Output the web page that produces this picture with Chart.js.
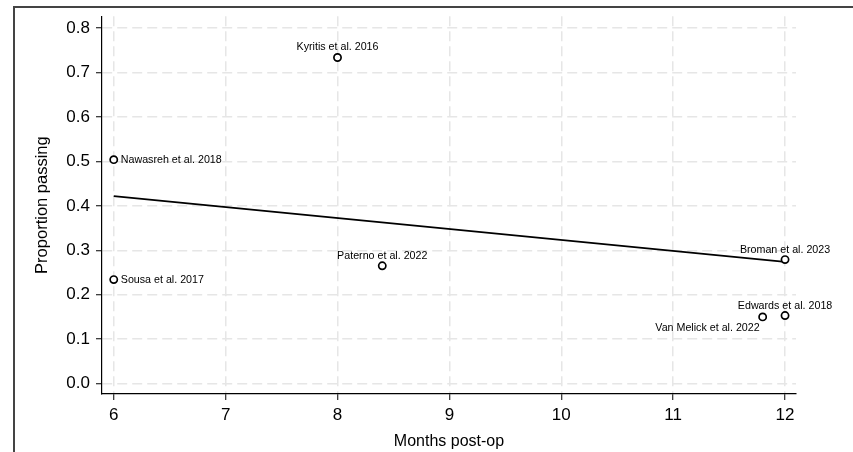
<!DOCTYPE html>
<html>
<head>
<meta charset="utf-8">
<script src="https://cdn.jsdelivr.net/npm/chart.js@4.4.0/dist/chart.umd.min.js"></script>
<style>
  html, body { margin: 0; padding: 0; background: #ffffff; }
  #wrap { width: 853px; height: 452px; position: relative; }
</style>
</head>
<body>
<div id="wrap"><canvas id="c" width="853" height="452"></canvas></div>
<script>
// ---- data ----
const studies = ["Nawasreh et al. 2018", "Sousa et al. 2017", "Kyritis et al. 2016", "Paterno et al. 2022", "Broman et al. 2023", "Edwards et al. 2018", "Van Melick et al. 2022"];
const months = [6, 6, 8, 8.4, 12, 12, 11.8];
const proportion = [0.504, 0.234, 0.734, 0.265, 0.279, 0.153, 0.150];
const fitMonths = [6, 12];
const fitProportion = [0.422, 0.274];
const xTicks = [6, 7, 8, 9, 10, 11, 12];
const yTicks = [0.0, 0.1, 0.2, 0.3, 0.4, 0.5, 0.6, 0.7, 0.8];

// label placement (style only)
const labelPlacement = ["right", "right", "above", "above", "above", "above", "belowLeft"];

const FONT = "'Liberation Sans', Arial, Helvetica, sans-serif";

const pointLabels = {
  id: 'pointLabels',
  afterDatasetsDraw(chart) {
    const ctx = chart.ctx;
    const xs = chart.scales.x, ys = chart.scales.y;
    ctx.save();
    ctx.font = "10.7px " + FONT;
    ctx.fillStyle = "#000";
    studies.forEach((name, i) => {
      const px = xs.getPixelForValue(months[i]);
      const py = ys.getPixelForValue(proportion[i]);
      const p = labelPlacement[i];
      if (p === "right") {
        ctx.textAlign = "left"; ctx.textBaseline = "middle";
        ctx.fillText(name, px + 7, py);
      } else if (p === "above") {
        ctx.textAlign = "center"; ctx.textBaseline = "middle";
        ctx.fillText(name, px, py - 10);
      } else {
        ctx.textAlign = "right"; ctx.textBaseline = "middle";
        ctx.fillText(name, px - 3, py + 11);
      }
    });
    ctx.restore();
  }
};

const frame = {
  id: 'frame',
  afterDraw(chart) {
    const ctx = chart.ctx;
    ctx.save();
    ctx.strokeStyle = "#444";
    ctx.lineWidth = 2;
    ctx.beginPath();
    ctx.moveTo(14, 452);
    ctx.lineTo(14, 7);
    ctx.lineTo(853, 7);
    ctx.stroke();
    ctx.restore();
  }
};

new Chart(document.getElementById('c'), {
  type: 'scatter',
  data: {
    datasets: [
      {
        label: 'Studies',
        data: months.map((m, i) => ({ x: m, y: proportion[i] })),
        showLine: false,
        pointRadius: 3.6,
        pointBorderWidth: 1.7,
        pointBorderColor: '#000',
        pointBackgroundColor: '#fff',
        order: 1
      },
      {
        label: 'Fit',
        data: fitMonths.map((m, i) => ({ x: m, y: fitProportion[i] })),
        showLine: true,
        borderColor: '#000',
        borderWidth: 1.7,
        pointRadius: 0,
        fill: false,
        order: 2
      }
    ]
  },
  options: {
    responsive: false,
    animation: false,
    devicePixelRatio: 1,
    layout: { padding: { top: 8, right: 57, left: 0, bottom: 0 } },
    plugins: { legend: { display: false }, tooltip: { enabled: false } },
    scales: {
      x: {
        type: 'linear',
        min: 5.895,
        max: 12.098,
        afterFit(s) { s.height = 58; },
        afterBuildTicks(s) { s.ticks = xTicks.map(v => ({ value: v })); },
        ticks: {
          color: '#000',
          font: { family: FONT, size: 17 },
          padding: 5,
          maxRotation: 0,
          autoSkip: false,
          callback: v => String(v)
        },
        grid: {
          color: '#e6e6e6',
          lineWidth: 1.5,
          tickLength: 6,
          tickColor: '#000',
          tickWidth: 1,
          tickBorderDash: []
        },
        border: { display: true, color: '#000', width: 1.2, dash: [10, 5] },
        title: {
          display: true,
          text: 'Months post-op',
          color: '#000',
          font: { family: FONT, size: 16 },
          padding: { top: 0, bottom: 1 }
        }
      },
      y: {
        type: 'linear',
        min: -0.0236,
        max: 0.827,
        afterFit(s) { s.width = 102; },
        afterBuildTicks(s) { s.ticks = yTicks.map(v => ({ value: v })); },
        ticks: {
          color: '#000',
          font: { family: FONT, size: 17 },
          padding: 6,
          autoSkip: false,
          callback: v => Number(v).toFixed(1)
        },
        grid: {
          color: '#e6e6e6',
          lineWidth: 1.5,
          tickLength: 6,
          tickColor: '#000',
          tickWidth: 1,
          tickBorderDash: []
        },
        border: { display: true, color: '#000', width: 1.2, dash: [10, 5] },
        title: {
          display: true,
          text: 'Proportion passing',
          color: '#000',
          font: { family: FONT, size: 16.5 },
          padding: { top: 33, bottom: 0 }
        }
      }
    }
  },
  plugins: [pointLabels, frame]
});
</script>
</body>
</html>
